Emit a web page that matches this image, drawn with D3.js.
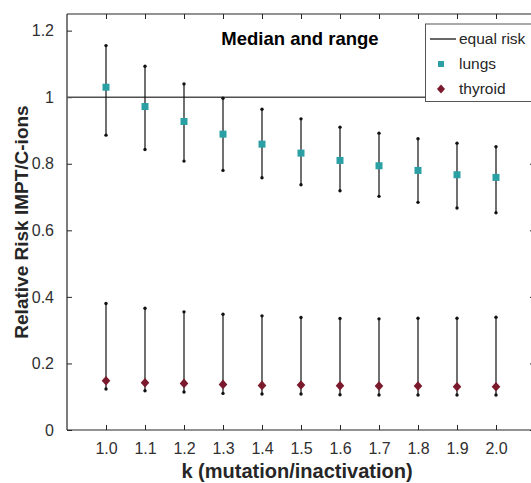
<!DOCTYPE html>
<html>
<head>
<meta charset="utf-8">
<script src="https://cdn.jsdelivr.net/npm/d3@7"></script>
<style>
  html, body { margin: 0; padding: 0; background: #fff; }
  svg { display: block; font-family: "Liberation Sans", Arial, Helvetica, sans-serif; }
</style>
</head>
<body>
<svg id="chart" width="531" height="483"></svg>
<script>
// k values (mutation/inactivation ratio)
const kValues = [1.0, 1.1, 1.2, 1.3, 1.4, 1.5, 1.6, 1.7, 1.8, 1.9, 2.0];
const kTickLabels = ["1.0", "1.1", "1.2", "1.3", "1.4", "1.5", "1.6", "1.7", "1.8", "1.9", "2.0"];

// Lungs: median, min and max of relative risk
const lungsMedian = [1.030, 0.972, 0.927, 0.889, 0.859, 0.832, 0.810, 0.794, 0.780, 0.767, 0.759];
const lungsMin    = [0.886, 0.843, 0.808, 0.780, 0.758, 0.737, 0.719, 0.702, 0.684, 0.667, 0.653];
const lungsMax    = [1.155, 1.093, 1.040, 0.997, 0.964, 0.935, 0.910, 0.892, 0.875, 0.862, 0.851];

// Thyroid: median, min and max of relative risk
const thyroidMedian = [0.148, 0.142, 0.140, 0.137, 0.134, 0.135, 0.133, 0.132, 0.132, 0.130, 0.130];
const thyroidMin    = [0.123, 0.118, 0.114, 0.110, 0.108, 0.108, 0.106, 0.105, 0.105, 0.105, 0.105];
const thyroidMax    = [0.380, 0.366, 0.355, 0.348, 0.343, 0.338, 0.335, 0.334, 0.336, 0.336, 0.339];

const yTicks = [0, 0.2, 0.4, 0.6, 0.8, 1, 1.2];
const equalRisk = 1;

const lungsColor = "#2a9fa4";
const thyroidColor = "#7a1a2c";
const axisColor = "#262626";

const svg = d3.select("#chart");
const plotLeft = 67, plotRight = 535, plotTop = 14, plotBottom = 430;

const x = d3.scaleLinear().domain([0.9, 2.1]).range([plotLeft, plotRight]);
const y = d3.scaleLinear().domain([0, 1.25]).range([plotBottom, plotTop]);

// Axes (ticks point inward, box around the plot area)
const tickLen = 5;
const xAxisB = d3.axisBottom(x).tickValues(kValues).tickSize(-tickLen).tickPadding(13)
  .tickFormat((d, i) => kTickLabels[i]);
const xAxisT = d3.axisTop(x).tickValues(kValues).tickSize(-tickLen).tickFormat("");
const yAxisL = d3.axisLeft(y).tickValues(yTicks).tickSize(-tickLen).tickPadding(13)
  .tickFormat(d3.format("~g"));
const yAxisR = d3.axisRight(y).tickValues(yTicks).tickSize(-tickLen).tickFormat("");

function styleAxis(g) {
  g.select(".domain").attr("stroke", axisColor).attr("stroke-width", 1.2);
  g.selectAll(".tick line").attr("stroke", axisColor);
  g.selectAll(".tick text").attr("fill", "#303030").attr("font-size", "16px")
    .attr("font-family", "'Liberation Sans', Arial, sans-serif");
}

svg.append("g").attr("transform", `translate(0,${plotBottom})`).call(xAxisB).call(styleAxis)
  .call(g => g.select(".domain").attr("d", `M${plotLeft},0H${plotRight}`));
svg.append("g").attr("transform", `translate(0,${plotTop})`).call(xAxisT).call(styleAxis)
  .call(g => g.select(".domain").attr("d", `M${plotLeft},0H${plotRight}`));
svg.append("g").attr("transform", `translate(${plotLeft},0)`).call(yAxisL).call(styleAxis)
  .call(g => g.select(".domain").attr("d", `M0,${plotTop}V${plotBottom}`));
svg.append("g").attr("transform", `translate(${plotRight},0)`).call(yAxisR).call(styleAxis)
  .call(g => g.select(".domain").attr("d", `M0,${plotTop}V${plotBottom}`));

// Equal-risk reference line
svg.append("line")
  .attr("x1", plotLeft).attr("x2", plotRight)
  .attr("y1", y(equalRisk)).attr("y2", y(equalRisk))
  .attr("stroke", "#505050").attr("stroke-width", 1.6);

// Range bars with dot caps
function drawRange(mins, maxs) {
  const g = svg.append("g");
  g.selectAll("line").data(kValues).join("line")
    .attr("x1", d => x(d)).attr("x2", d => x(d))
    .attr("y1", (d, i) => y(mins[i])).attr("y2", (d, i) => y(maxs[i]))
    .attr("stroke", "#111").attr("stroke-width", 1.2);
  const caps = kValues.flatMap((d, i) => [[d, mins[i]], [d, maxs[i]]]);
  g.selectAll("circle").data(caps).join("circle")
    .attr("cx", d => x(d[0])).attr("cy", d => y(d[1])).attr("r", 1.7)
    .attr("fill", "#111");
}
drawRange(lungsMin, lungsMax);
drawRange(thyroidMin, thyroidMax);

// Median markers
const sq = 7;
svg.append("g").selectAll("rect").data(kValues).join("rect")
  .attr("x", d => x(d) - sq / 2)
  .attr("y", (d, i) => y(lungsMedian[i]) - sq / 2)
  .attr("width", sq).attr("height", sq)
  .attr("fill", lungsColor);

const diamond = (cx, cy, r) => `M${cx},${cy - r}L${cx + r * 0.9},${cy}L${cx},${cy + r}L${cx - r * 0.9},${cy}Z`;
svg.append("g").selectAll("path").data(kValues).join("path")
  .attr("d", (d, i) => diamond(x(d), y(thyroidMedian[i]), 4.8))
  .attr("fill", thyroidColor);

// Title inside the plot
svg.append("text")
  .attr("x", 300).attr("y", 45)
  .attr("text-anchor", "middle")
  .attr("font-size", "18.5px").attr("font-weight", "bold").attr("fill", "#000")
  .text("Median and range");

// Legend
const lg = svg.append("g");
lg.append("rect").attr("x", 425.5).attr("y", 24).attr("width", 120).attr("height", 77.5)
  .attr("fill", "#fff").attr("stroke", "#555").attr("stroke-width", 1);
lg.append("line").attr("x1", 430).attr("x2", 456).attr("y1", 39).attr("y2", 39)
  .attr("stroke", "#000").attr("stroke-width", 1.2);
lg.append("rect").attr("x", 441 - 3).attr("y", 64 - 3).attr("width", 6).attr("height", 6)
  .attr("fill", lungsColor);
lg.append("path").attr("d", diamond(441, 89, 4.5)).attr("fill", thyroidColor);
const legendLabels = ["equal risk", "lungs", "thyroid"];
lg.selectAll("text").data(legendLabels).join("text")
  .attr("x", 459).attr("y", (d, i) => 39 + i * 25).attr("dy", "0.35em")
  .attr("font-size", "15.5px").attr("fill", axisColor)
  .text(d => d);

// Axis titles
svg.append("text")
  .attr("x", 297).attr("y", 478)
  .attr("text-anchor", "middle")
  .attr("font-size", "20px").attr("font-weight", "bold").attr("fill", axisColor)
  .text("k (mutation/inactivation)");

svg.append("text")
  .attr("transform", "translate(28,222) rotate(-90)")
  .attr("text-anchor", "middle")
  .attr("font-size", "19px").attr("font-weight", "bold").attr("fill", axisColor)
  .text("Relative Risk IMPT/C-ions");
</script>
</body>
</html>
